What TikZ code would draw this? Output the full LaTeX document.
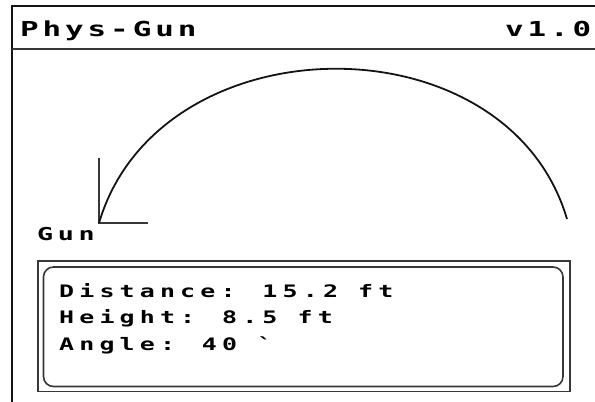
\documentclass[tikz,border=0pt]{standalone}
\usepackage{fontspec}
\usepackage{xcolor}
\usepackage{tikz}
\usetikzlibrary{positioning}
\newfontfamily\pixTitle[FakeStretch=1.5, LetterSpace=19]{DejaVu Sans Mono}
\newfontfamily\pixGun[FakeStretch=1.5, LetterSpace=26]{DejaVu Sans Mono}
\newfontfamily\pixBody[FakeStretch=1.45, LetterSpace=30]{DejaVu Sans Mono}
\definecolor{frameInk}{RGB}{20, 20, 20}
\definecolor{boxInk}{RGB}{55, 55, 55}

\begin{document}
\begin{tikzpicture}[x=1pt, y=-1pt,
    pixtxt/.style={inner sep=0pt, anchor=base west, text=black},
    rule/.style={line width=1.6pt, color=frameInk},
    panel/.style={line width=1.6pt, color=boxInk}]
    \useasboundingbox (0,0) rectangle (595,402);
    % screen frame and header bar
    \draw[rule] (12,402) -- (12,6) -- (595,6);
    \draw[panel] (12,49) -- (595,49);
    \node[pixtxt, font=\pixTitle\bfseries\fontsize{20.6}{24}\selectfont] (title) at (20,36) {Phys-Gun};
    \node[pixtxt, font=\pixTitle\bfseries\fontsize{20.6}{24}\selectfont] (version) at (505,36) {v1.0};
    % launcher and trajectory
    \coordinate (gun) at (99,223);
    \coordinate (axisUp) at (99,158);
    \coordinate (axisRight) at (148,223);
    \coordinate (land) at (567,219);
    \draw[panel, line width=1.5pt] (axisUp) -- (gun) -- (axisRight);
    \draw[line width=1.8pt, color=frameInk] (gun) .. controls (159,20) and (507,16) .. (land);
    \node[pixtxt, font=\pixGun\bfseries\fontsize{17.8}{20}\selectfont] (gunLabel) at (37,240) {Gun};
    % readout panel
    \draw[panel] (38,261) rectangle (570,391.5);
    \draw[panel, rounded corners=10pt] (43.5,267) rectangle (563,386.5);
    \foreach \txt [count=\i] in {Distance: 15.2 ft, Height: 8.5 ft, Angle: 40 \symbol{96}}{
      \node[pixtxt, font=\pixBody\bfseries\fontsize{17.2}{20}\selectfont] (readout\i) at (59,{270.5+26.5*\i}) {\txt};
    }
\end{tikzpicture}
\end{document}
